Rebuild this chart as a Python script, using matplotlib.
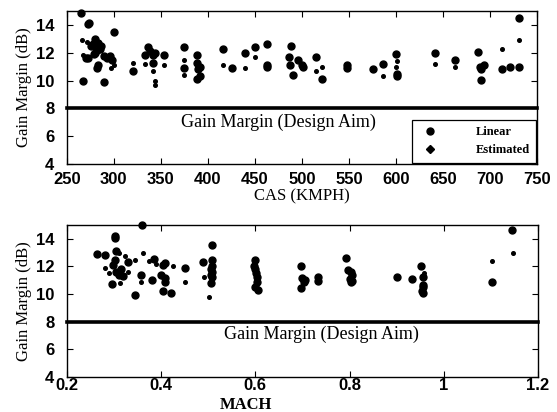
import matplotlib
matplotlib.use("Agg")
from matplotlib import pyplot as plt
from matplotlib.lines import Line2D

# CAS panel : Linear (large markers) and Estimated (small markers)
cas_lin = [265, 272, 274, 300, 280, 283, 276, 282, 280, 285, 290, 296, 297.5, 273, 283,
           281.6, 267.7, 289.7, 278, 286, 279, 293, 270,
           320.6, 336.5, 338, 341.8, 343.6, 333, 342, 353.5,
           374.8, 374.8, 388, 388, 391.5, 389.7, 391.5, 388,
           416, 426, 439, 450, 462.5, 462.5, 462.5,
           488, 486.5, 487, 491, 496, 499.7, 501.5, 515, 521,
           547.5, 547.5, 576, 586.5, 600, 601.5, 601.5,
           641.5, 662.8, 687, 689, 693.6, 691, 690.5, 712.5, 721, 731, 731]
gm_cas_lin = [14.9, 14.05, 14.15, 13.5, 13.0, 12.7, 12.5, 12.2, 12.0, 12.3, 11.75, 11.75, 11.5, 11.6, 11.1,
              10.9, 9.95, 9.9, 12.6, 12.5, 11.9, 11.6, 11.6,
              10.7, 12.45, 12.1, 11.85, 12.0, 11.85, 11.3, 11.85,
              12.45, 10.9, 11.85, 11.26, 11.0, 10.8, 10.3, 10.1,
              12.25, 10.9, 12.0, 12.4, 12.65, 11.1, 11.0,
              12.5, 11.7, 11.1, 10.4, 11.5, 11.1, 11.0, 11.7, 10.15,
              11.15, 10.9, 10.8, 11.2, 11.9, 10.5, 10.35,
              12.0, 11.5, 12.05, 11.0, 11.15, 10.85, 10.05, 10.85, 11.0, 14.5, 11.0]

cas_est = [266, 271, 267, 300, 297, 320.6, 333, 342, 344, 344, 353.5, 374.8, 374.8,
           416, 439, 450, 521, 515, 586.5, 601.5, 600, 641.5, 662.8, 712.5, 731]
gm_cas_est = [12.9, 12.8, 11.85, 11.1, 10.9, 11.3, 11.2, 10.7, 9.95, 9.7, 11.1, 11.5, 10.4,
              11.1, 10.9, 11.7, 11.0, 10.7, 10.3, 11.4, 11.0, 11.2, 10.95, 12.3, 12.9]

# MACH panel
mach_lin = [0.36, 0.302, 0.303, 0.265, 0.28, 0.305, 0.302, 0.298, 0.33, 0.305, 0.31, 0.315, 0.32,
            0.295, 0.344, 0.358, 0.381, 0.386, 0.404, 0.408, 0.4, 0.408, 0.408, 0.404, 0.422, 0.45,
            0.509, 0.489, 0.509, 0.508, 0.505, 0.508, 0.505, 0.508, 0.506,
            0.6, 0.598, 0.6, 0.602, 0.603, 0.603, 0.6, 0.605,
            0.697, 0.7, 0.706, 0.704, 0.697, 0.732, 0.732,
            0.793, 0.797, 0.803, 0.806, 0.8, 0.806, 0.804,
            0.9, 0.932, 0.951, 0.955, 0.955, 0.956, 0.953, 0.955, 1.103, 1.144]
gm_mach_lin = [15.0, 14.2, 14.05, 12.9, 12.85, 13.1, 12.5, 12.1, 12.35, 11.6, 11.4, 11.8, 11.3,
               10.7, 9.95, 11.4, 11.0, 12.55, 12.1, 12.25, 11.4, 11.15, 10.9, 10.25, 10.05, 11.9,
               13.55, 12.35, 12.5, 12.0, 11.8, 11.6, 11.4, 11.2, 10.8,
               12.5, 12.0, 11.8, 11.5, 11.2, 10.9, 10.5, 10.3,
               12.05, 11.15, 11.0, 10.9, 10.45, 11.25, 10.95,
               12.6, 11.75, 11.6, 11.4, 11.1, 10.95, 10.85,
               11.2, 11.1, 12.05, 11.25, 10.65, 10.5, 10.2, 10.05, 10.9, 14.65]

mach_est = [0.31, 0.323, 0.345, 0.362, 0.28, 0.312, 0.358, 0.375, 0.39, 0.425, 0.45, 0.492,
            0.501, 0.958, 1.103, 1.146, 0.29, 0.33]
gm_mach_est = [13.0, 12.75, 12.5, 12.95, 11.9, 10.8, 10.9, 12.4, 12.2, 12.0, 10.9, 11.2,
               9.8, 11.55, 12.4, 12.95, 11.5, 11.6]

design_aim = 8
cas_ticks = [250, 300, 350, 400, 450, 500, 550, 600, 650, 700, 750]
mach_ticks = [0.2, 0.4, 0.6, 0.8, 1.0, 1.2]
mach_labels = ['0.2', '0.4', '0.6', '0.8', '1', '1.2']
gm_ticks = [4, 6, 8, 10, 12, 14]

serif = 'Liberation Serif'

fig = plt.figure(figsize=(5.57, 4.12), dpi=100)
ax1 = fig.add_axes([0.120, 0.602, 0.844, 0.371])
ax2 = fig.add_axes([0.120, 0.085, 0.846, 0.369])


def style(ax, xpad):
    ax.set_ylim(4, 15)
    ax.set_yticks(gm_ticks)
    ax.tick_params(direction='in', top=True, right=True, length=4, width=0.8)
    ax.tick_params(axis='y', pad=9)
    ax.tick_params(axis='x', pad=xpad)
    for lab in ax.get_xticklabels() + ax.get_yticklabels():
        lab.set_fontfamily('Liberation Sans')
        lab.set_fontweight('bold')
        lab.set_fontsize(12)
    for s in ax.spines.values():
        s.set_linewidth(1.0)
    ax.set_ylabel('Gain Margin (dB)', family=serif, fontsize=12, labelpad=3)


# top : CAS
ax1.plot(cas_lin, gm_cas_lin, 'o', color='black', ms=5, mec='black')
ax1.plot(cas_est, gm_cas_est, 'o', color='black', ms=2.6, mec='black')
ax1.axhline(design_aim, color='black', lw=2.6)
ax1.text(475, 7.0, 'Gain Margin (Design Aim)', family=serif, fontsize=13,
         ha='center', va='center')
ax1.set_xlim(250, 750)
ax1.set_xticks(cas_ticks)
style(ax1, 6)
ax1.set_xlabel('CAS (KMPH)', family=serif, fontsize=12, labelpad=1)
handles = [Line2D([], [], ls='none', marker='o', color='black', ms=5),
           Line2D([], [], ls='none', marker='D', color='black', ms=4.2)]
leg = ax1.legend(handles, ['Linear', 'Estimated'], loc='lower right',
                 prop={'family': serif, 'weight': 'bold', 'size': 9},
                 fancybox=False, edgecolor='black', framealpha=1,
                 borderaxespad=0.1, handletextpad=2.6, labelspacing=0.5,
                 borderpad=0.5)
leg.get_frame().set_linewidth(0.9)

# bottom : MACH
ax2.plot(mach_lin, gm_mach_lin, 'o', color='black', ms=5, mec='black')
ax2.plot(mach_est, gm_mach_est, 'o', color='black', ms=2.6, mec='black')
ax2.axhline(design_aim, color='black', lw=2.6)
ax2.text(0.74, 7.1, 'Gain Margin (Design Aim)', family=serif, fontsize=13,
         ha='center', va='center')
ax2.set_xlim(0.2, 1.2)
ax2.set_xticks(mach_ticks)
ax2.set_xticklabels(mach_labels)
style(ax2, 0.5)
ax2.set_xlabel('MACH', family=serif, fontsize=12, fontweight='bold')
ax2.xaxis.set_label_coords(0.38, -0.13)

for ax in (ax1, ax2):
    for l in ax.lines:
        l.set_clip_on(False)

fig.savefig('out.png', dpi=100)
